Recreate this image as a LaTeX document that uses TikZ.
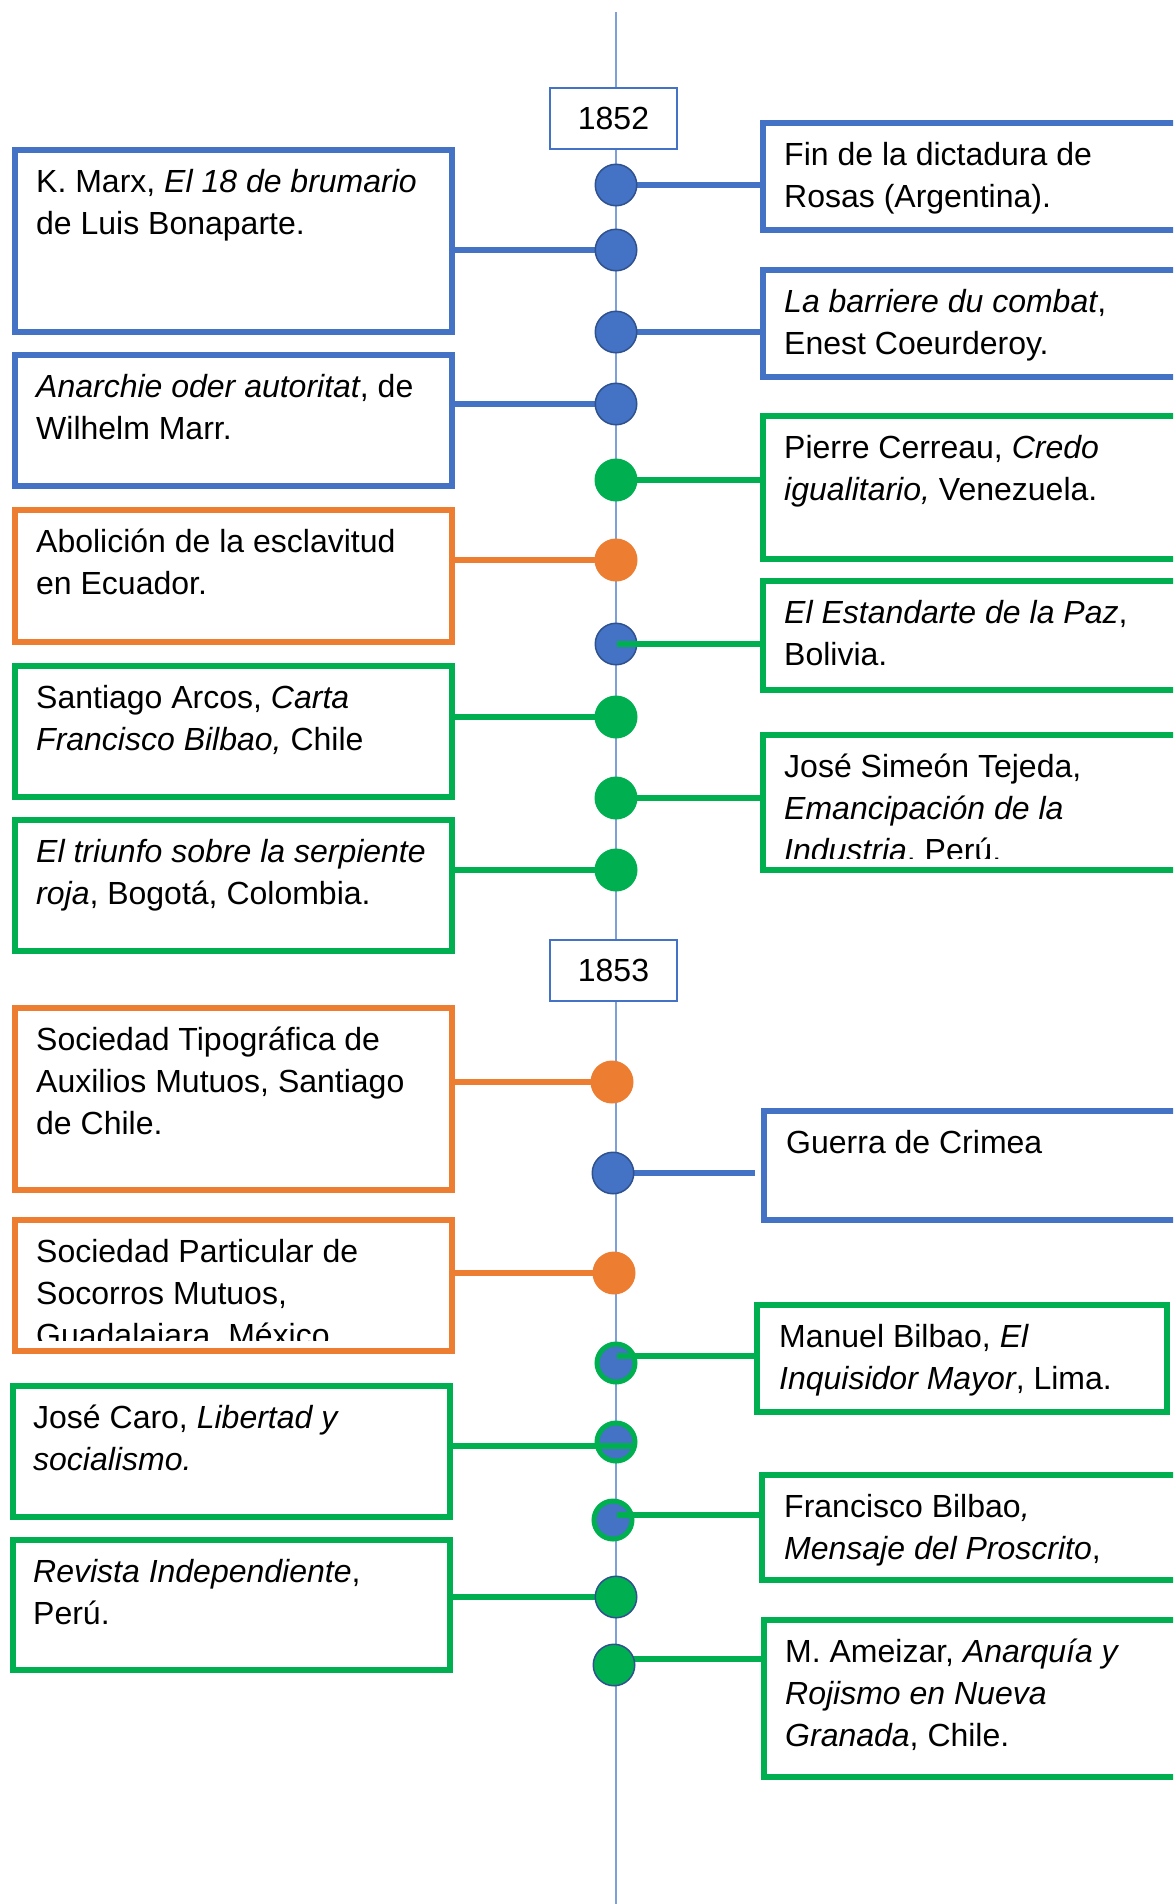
\documentclass[tikz,border=0pt]{standalone}
\usepackage{fontspec}
\setmainfont{Liberation Sans}
\definecolor{cblue}{HTML}{4472C4}
\definecolor{corange}{HTML}{ED7D31}
\definecolor{cgreen}{HTML}{00B050}
\definecolor{cdark}{HTML}{2F528F}
\definecolor{cline}{HTML}{7F9FD9}
\begin{document}
\begin{tikzpicture}[x=1pt,y=-1pt,
  bx/.style={draw=#1, line width=6pt, rectangle, inner sep=0pt, outer sep=0pt, anchor=north west},
  txt/.style={anchor=north west, inner sep=0pt, align=left, font=\fontsize{32}{42}\selectfont},
  yr/.style={draw=cblue, line width=2pt, fill=white, rectangle, inner sep=0pt, minimum width=127pt, minimum height=61pt, font=\fontsize{32}{42}\selectfont},
  con/.style={line width=6pt, draw=#1},
  dotplain/.style={circle, inner sep=0pt, minimum size=43pt, fill=#1},
  dotdark/.style={circle, inner sep=0pt, minimum size=41.5pt, fill=#1, draw=cdark, line width=1.5pt},
  dotring/.style={circle, inner sep=0pt, minimum size=38pt, fill=cblue, draw=cgreen, line width=5pt}]
\useasboundingbox (0,0) rectangle (1173,1904);
\clip (0,0) rectangle (1173,1904);
% timeline
\coordinate (tTop) at (616,12);
\coordinate (tBot) at (616,1904);
\draw[cline, line width=2pt] (tTop) -- (tBot);
\node[yr] (y1852) at (613.5,118.5) {1852};
\node[yr] (y1853) at (613.5,970.5) {1853};
% boxes
\node[bx=cblue, minimum width=437pt, minimum height=182pt] (L1) at (15,150) {};
\node[bx=cblue, minimum width=437pt, minimum height=131pt] (L2) at (15,355) {};
\node[bx=corange, minimum width=437pt, minimum height=132pt] (L3) at (15,510) {};
\node[bx=cgreen, minimum width=437pt, minimum height=131pt] (L4) at (15,666) {};
\node[bx=cgreen, minimum width=437pt, minimum height=131pt] (L5) at (15,820) {};
\node[bx=corange, minimum width=437pt, minimum height=182pt] (L6) at (15,1008) {};
\node[bx=corange, minimum width=437pt, minimum height=131pt] (L7) at (15,1220) {};
\node[bx=cgreen, minimum width=437pt, minimum height=131pt] (L8) at (13,1386) {};
\node[bx=cgreen, minimum width=437pt, minimum height=130pt] (L9) at (13,1540) {};
\node[bx=cblue, minimum width=427pt, minimum height=107pt] (R1) at (763,123) {};
\node[bx=cblue, minimum width=427pt, minimum height=107pt] (R2) at (763,270) {};
\node[bx=cgreen, minimum width=427pt, minimum height=143pt] (R3) at (763,416) {};
\node[bx=cgreen, minimum width=427pt, minimum height=109pt] (R4) at (763,581) {};
\node[bx=cgreen, minimum width=427pt, minimum height=135pt] (R5) at (763,735) {};
\node[bx=cblue, minimum width=427pt, minimum height=109pt] (R6) at (764,1111) {};
\node[bx=cgreen, minimum width=410pt, minimum height=107pt] (R7) at (757,1305) {};
\node[bx=cgreen, minimum width=427pt, minimum height=105pt] (R8) at (762,1475) {};
\node[bx=cgreen, minimum width=427pt, minimum height=157pt] (R9) at (764,1620) {};
% connector anchor points on the timeline
\coordinate (k1) at (616,185);
\coordinate (k2) at (616,250);
\coordinate (k3) at (616,332);
\coordinate (k4) at (616,404);
\coordinate (k5) at (616,480);
\coordinate (k6) at (616,560);
\coordinate (k7) at (617,644);
\coordinate (k8) at (616,717);
\coordinate (k9) at (616,798);
\coordinate (k10) at (616,870);
\coordinate (k11) at (612,1082);
\coordinate (k12) at (613,1173);
\coordinate (k13) at (614,1273);
\coordinate (k14) at (617,1356);
\coordinate (k15) at (632,1446);
\coordinate (k16) at (617,1515);
\coordinate (k17) at (616,1597);
\coordinate (k18) at (614,1659);
\coordinate (e12) at (755,1173);
% connectors behind the dots
\draw[con=cblue] (R1.west |- k1) -- (k1);
\draw[con=cblue] (L1.east |- k2) -- (k2);
\draw[con=cblue] (R2.west |- k3) -- (k3);
\draw[con=cblue] (L2.east |- k4) -- (k4);
\draw[con=cgreen] (R3.west |- k5) -- (k5);
\draw[con=corange] (L3.east |- k6) -- (k6);
\draw[con=cgreen] (L4.east |- k8) -- (k8);
\draw[con=cgreen] (R5.west |- k9) -- (k9);
\draw[con=cgreen] (L5.east |- k10) -- (k10);
\draw[con=corange] (L6.east |- k11) -- (k11);
\draw[con=cblue] (e12) -- (k12);
\draw[con=corange] (L7.east |- k13) -- (k13);
\draw[con=cgreen] (L9.east |- k17) -- (k17);
\draw[con=cgreen] (R9.west |- k18) -- (k18);
% dots
\node[dotdark=cblue] (c1) at (616,185) {};
\node[dotdark=cblue] (c2) at (616,250) {};
\node[dotdark=cblue] (c3) at (616,332) {};
\node[dotdark=cblue] (c4) at (616,404) {};
\node[dotplain=cgreen] (c5) at (616,480) {};
\node[dotplain=corange] (c6) at (616,560) {};
\node[dotdark=cblue] (c7) at (616,644) {};
\node[dotplain=cgreen] (c8) at (616,717) {};
\node[dotplain=cgreen] (c9) at (616,798) {};
\node[dotplain=cgreen] (c10) at (616,870) {};
\node[dotplain=corange] (c11) at (612,1082) {};
\node[dotdark=cblue] (c12) at (613,1173) {};
\node[dotplain=corange] (c13) at (614,1273) {};
\node[dotring] (c14) at (616,1363) {};
\node[dotring] (c15) at (616,1442) {};
\node[dotring] (c16) at (613,1520) {};
\node[dotdark=cgreen] (c17) at (616,1597) {};
\node[dotdark=cgreen] (c18) at (614,1665) {};
% connectors drawn over the dots
\draw[con=cgreen] (k7) -- (R4.west |- k7);
\draw[con=cgreen] (k14) -- (R7.west |- k14);
\draw[con=cgreen] (L8.east |- k15) -- (k15);
\draw[con=cgreen] (k16) -- (R8.west |- k16);
% texts (node north = first baseline - 29.4)
\node[txt] (tL1) at (36,162.6) {\strut K. Marx, \textit{El 18 de brumario}\\de Luis Bonaparte.};
\node[txt] (tL2) at (36,367.6) {\strut\textit{Anarchie oder autoritat}, de\\Wilhelm Marr.};
\node[txt] (tL3) at (36,522.6) {\strut Abolición de la esclavitud\\en Ecuador.};
\node[txt] (tL4) at (36,678.6) {\strut Santiago Arcos, \textit{Carta}\\\textit{Francisco Bilbao,} Chile};
\node[txt] (tL5) at (36,832.6) {\strut\textit{El triunfo sobre la serpiente}\\\textit{roja}, Bogotá, Colombia.};
\node[txt] (tL6) at (36,1020.6) {\strut Sociedad Tipográfica de\\Auxilios Mutuos, Santiago\\de Chile.};
\begin{scope}
\clip (20,1225) rectangle (447,1340);
\node[txt] (tL7) at (36,1232.6) {\strut Sociedad Particular de\\Socorros Mutuos,\\Guadalajara, México.};
\end{scope}
\node[txt] (tL8) at (33,1398.6) {\strut José Caro, \textit{Libertad y}\\\textit{socialismo.}};
\node[txt] (tL9) at (33,1552.6) {\strut\textit{Revista Independiente},\\Perú.};
\node[txt] (tR1) at (784,135.6) {\strut Fin de la dictadura de\\Rosas (Argentina).};
\node[txt] (tR2) at (784,282.6) {\strut\textit{La barriere du combat},\\Enest Coeurderoy.};
\node[txt] (tR3) at (784,428.6) {\strut Pierre Cerreau, \textit{Credo}\\\textit{igualitario,} Venezuela.};
\node[txt] (tR4) at (784,593.6) {\strut\textit{El Estandarte de la Paz},\\Bolivia.};
\begin{scope}
\clip (768,740) rectangle (1173,858);
\node[txt] (tR5) at (784,747.6) {\strut José Simeón Tejeda,\\\textit{Emancipación de la}\\\textit{Industria}, Perú.};
\end{scope}
\node[txt] (tR6) at (786,1123.6) {\strut Guerra de Crimea};
\node[txt] (tR7) at (779,1317.6) {\strut Manuel Bilbao, \textit{El}\\\textit{Inquisidor Mayor}, Lima.};
\node[txt] (tR8) at (784,1487.6) {\strut Francisco Bilbao\textit{,}\\\textit{Mensaje del Proscrito},};
\node[txt] (tR9) at (785,1632.6) {\strut M. Ameizar, \textit{Anarquía y}\\\textit{Rojismo en Nueva}\\\textit{Granada}, Chile.};
\end{tikzpicture}
\end{document}
